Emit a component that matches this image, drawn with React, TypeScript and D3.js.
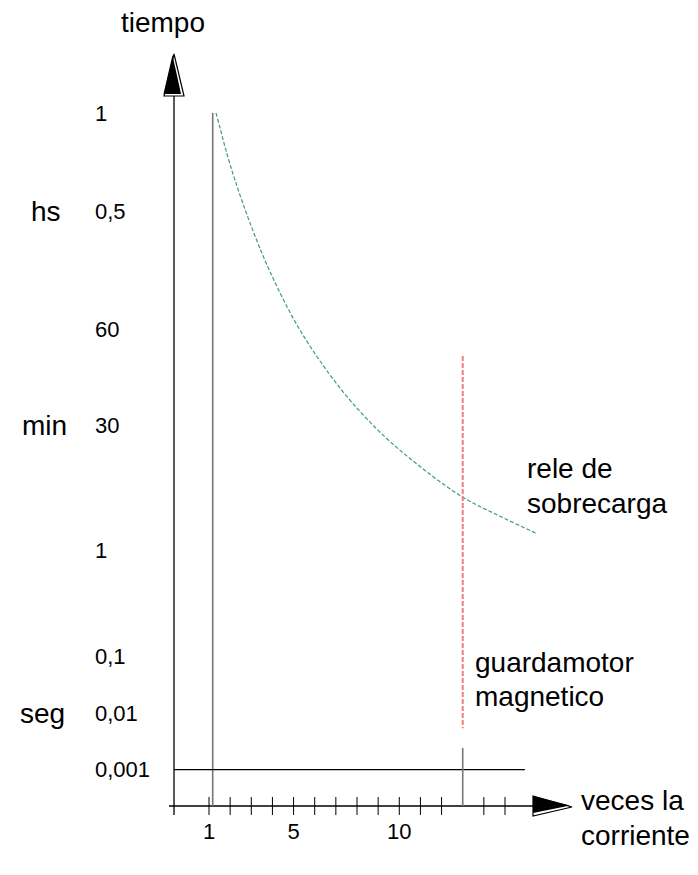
import React from 'react';
import { scaleLinear, line, curveCatmullRom } from 'd3';

// veces la corriente (x) / nivel de tiempo esquematico (y)
const xTickValues = [1, 2, 3, 4, 5, 6, 7, 8, 9, 10, 11, 12, 14, 15];
const xTickLabels = [
  { value: 1, label: '1' },
  { value: 5, label: '5' },
  { value: 10, label: '10' },
];

const yTickLabels = [
  { level: 9.9, label: '1' },
  { level: 8.5, label: '0,5' },
  { level: 6.81, label: '60' },
  { level: 5.44, label: '30' },
  { level: 3.66, label: '1' },
  { level: 2.14, label: '0,1' },
  { level: 1.33, label: '0,01' },
  { level: 0.53, label: '0,001' },
];

const unitLabels = [
  { level: 8.5, label: 'hs' },
  { level: 5.44, label: 'min' },
  { level: 1.33, label: 'seg' },
];

// curva del rele de sobrecarga
const releCurrent = [1.33, 1.52, 1.8, 2.23, 2.94, 3.89, 5.3, 7.2, 9.09, 10.98, 13.01, 14.76, 16.51];
const releLevel = [9.9, 9.69, 9.37, 8.94, 8.33, 7.63, 6.8, 5.97, 5.34, 4.85, 4.41, 4.14, 3.89];

const nominalCurrent = 1.175;
const nominalTop = 9.9;
const guardaCurrent = 13.0;
const guardaTop = 6.43;
const guardaBottom = 1.11;
const guardaMarkTop = 0.83;
const floorLevel = 0.52;
const floorEnd = 15.94;

const W = 698;
const H = 875;
const axisX = 174;
const axisY = 806;

export default function App() {
  const x = scaleLinear().domain([1, 15]).range([209, 505]);
  const y = scaleLinear().domain([0, 10]).range([axisY, 106]);

  const pts = releCurrent.map((c, i) => [c, releLevel[i]] as [number, number]);
  const relePath = line<[number, number]>()
    .x(d => x(d[0]))
    .y(d => y(d[1]))
    .curve(curveCatmullRom.alpha(0.5))(pts);

  const font = 'Liberation Sans, Arial, sans-serif';

  return (
    <svg width={W} height={H} style={{ position: 'absolute', left: 0, top: 0, background: '#fff' }}
      fontFamily={font}>
      {/* eje y */}
      <line x1={axisX} x2={axisX} y1={96} y2={815} stroke="#000" strokeWidth={1.3} />
      <polygon points={`${axisX},54 ${axisX - 10},96 ${axisX + 10},96`} fill="#fff" stroke="#000" strokeWidth={1.2} />
      <polygon points={`${axisX - 1.5},55 ${axisX - 10.5},94 ${axisX + 7},94`} fill="#000" />

      {/* eje x */}
      <line x1={169} x2={533} y1={axisY} y2={axisY} stroke="#000" strokeWidth={1.3} />
      <polygon points={`533,796 533,816 572,807`} fill="#fff" stroke="#000" strokeWidth={1.2} />
      <polygon points={`533,796 533,813 570,805.5`} fill="#000" />

      {xTickValues.map(v => (
        <line key={v} x1={x(v)} x2={x(v)} y1={797} y2={815} stroke="#000" strokeWidth={1} />
      ))}
      {xTickLabels.map(t => (
        <text key={t.label} x={x(t.value)} y={839} fontSize={22} textAnchor="middle">{t.label}</text>
      ))}

      {yTickLabels.map((t, i) => (
        <text key={i} x={95} y={y(t.level)} dy="0.35em" fontSize={22}>{t.label}</text>
      ))}
      {unitLabels.map(t => (
        <text key={t.label} x={t.label === 'hs' ? 31 : t.label === 'min' ? 22 : 20} y={y(t.level)} dy="0.35em" fontSize={28}>{t.label}</text>
      ))}

      {/* linea de corriente nominal */}
      <line x1={x(nominalCurrent)} x2={x(nominalCurrent)} y1={y(nominalTop)} y2={y(0)} stroke="#777" strokeWidth={1.6} />
      {/* linea de tiempo minimo */}
      <line x1={axisX} x2={x(floorEnd)} y1={y(floorLevel)} y2={y(floorLevel)} stroke="#000" strokeWidth={1.2} />
      {/* marca del guardamotor */}
      <line x1={x(guardaCurrent)} x2={x(guardaCurrent)} y1={y(guardaMarkTop)} y2={y(0)} stroke="#777" strokeWidth={1.6} />

      {/* rele de sobrecarga */}
      <path d={relePath || ''} fill="none" stroke="#3f9e74" strokeWidth={1.2} strokeDasharray="4,2" />
      {/* guardamotor magnetico */}
      <line x1={x(guardaCurrent)} x2={x(guardaCurrent)} y1={y(guardaTop)} y2={y(guardaBottom)} stroke="#f47c7c" strokeWidth={2} strokeDasharray="5,2" />

      <text x={163} y={32} fontSize={28} textAnchor="middle">tiempo</text>
      <text x={527} y={478} fontSize={28}>rele de</text>
      <text x={527} y={513} fontSize={28}>sobrecarga</text>
      <text x={475} y={672} fontSize={28}>guardamotor</text>
      <text x={475} y={706} fontSize={28}>magnetico</text>
      <text x={581} y={810} fontSize={28}>veces la</text>
      <text x={581} y={845} fontSize={28}>corriente</text>
    </svg>
  );
}
